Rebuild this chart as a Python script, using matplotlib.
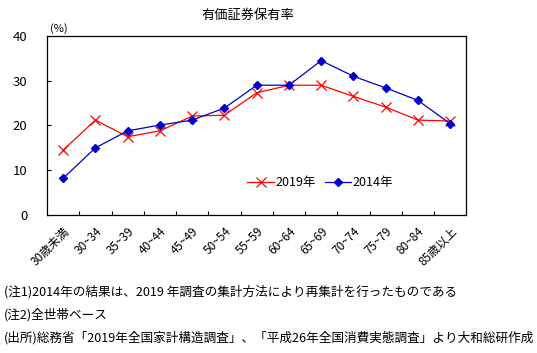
import numpy as np
import matplotlib
matplotlib.use("Agg")
import matplotlib.pyplot as plt
from matplotlib.ticker import FixedLocator

plt.rcParams['font.family'] = ['Noto Sans CJK JP', 'DejaVu Sans']

# age groups
categories = ["30歳未満", "30~34", "35~39", "40~44", "45~49", "50~54", "55~59",
              "60~64", "65~69", "70~74", "75~79", "80~84", "85歳以上"]
# holding rate of securities (%)
rate_2019 = [14.5, 21.2, 17.5, 18.8, 22.1, 22.3, 27.3, 29.0, 29.0, 26.5, 24.1, 21.2, 21.0]
rate_2014 = [8.2, 15.0, 18.8, 20.1, 21.2, 23.9, 29.0, 29.0, 34.5, 31.0, 28.4, 25.6, 20.4]

notes = [
    "(注1)2014年の結果は、2019 年調査の集計方法により再集計を行ったものである",
    "(注2)全世帯ベース",
    "(出所)総務省「2019年全国家計構造調査」、「平成26年全国消費実態調査」より大和総研作成",
]

fig = plt.figure(figsize=(5.37, 3.53), dpi=100)
ax = fig.add_axes([0.0875, 0.391, 0.781, 0.507])

x = np.arange(len(categories))
ax.plot(x, rate_2019, color="#FF0000", lw=0.9, marker="x", ms=6.5, mew=0.9, label="2019年")
ax.plot(x, rate_2014, color="#0000CC", lw=0.9, marker="D", ms=3.8, label="2014年")

ax.set_xlim(-0.5, len(categories) - 0.5)
ax.set_ylim(0, 40)
ax.set_yticks([0, 10, 20, 30, 40])
ax.tick_params(axis="y", direction="in", length=3, width=0.8, pad=14, labelsize=9.5)
ax.set_xticks(x)
ax.set_xticklabels(categories, rotation=45, ha="right", rotation_mode="anchor", fontsize=8.5)
ax.tick_params(axis="x", which="major", length=0, pad=7)
ax.xaxis.set_minor_locator(FixedLocator(np.arange(0.5, len(categories) - 1, 1.0)))
ax.tick_params(axis="x", which="minor", direction="in", length=3, width=0.8)
for s in ax.spines.values():
    s.set_linewidth(0.9)

ax.legend(loc="center", bbox_to_anchor=(0.652, 0.18), ncol=2, frameon=False,
          fontsize=9, handlelength=2.1, handletextpad=0.15, columnspacing=0.7)

fig.text(0.462, 0.957, "有価証券保有率", ha="center", va="center", fontsize=9.5)
fig.text(0.093, 0.918, "(%)", ha="left", va="center", fontsize=8)

for i, t in enumerate(notes):
    fig.text(0.008, 0.172 - i * 0.064, t, ha="left", va="center", fontsize=9.1)

fig.savefig("out.png", dpi=100)
